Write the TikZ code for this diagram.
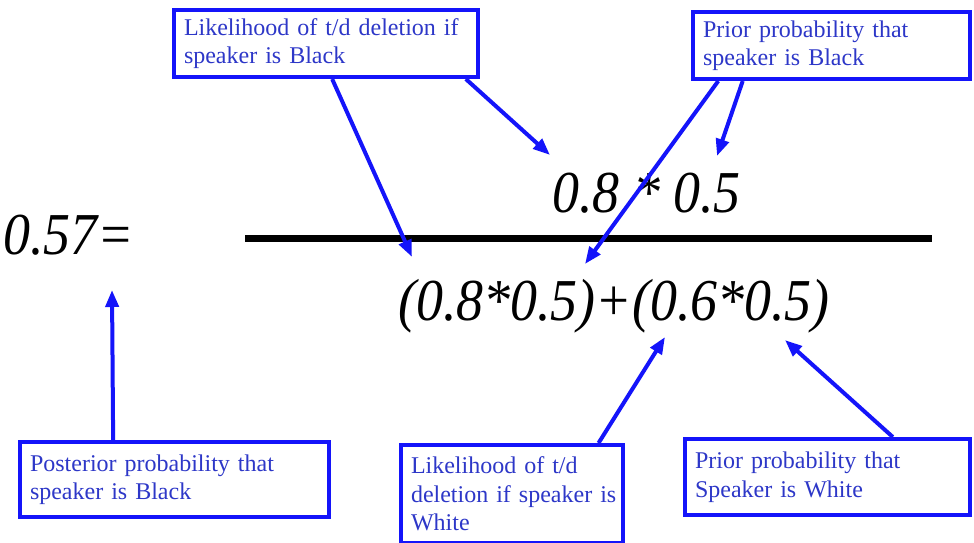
\documentclass[tikz,border=0pt]{standalone}
\usepackage{fontspec}
\usepackage{graphicx}
\setmainfont{Liberation Serif}
\usetikzlibrary{arrows.meta,calc}
\definecolor{boxblue}{RGB}{20,20,250}
\definecolor{txtblue}{RGB}{45,55,200}
\newcommand{\tallify}[1]{\scalebox{0.98}[1.08]{#1}}
\tikzset{
  lbl/.style={draw=boxblue, line width=4pt, fill=white, anchor=north west,
    inner xsep=10pt, inner ysep=2pt, align=left, text=txtblue,
    font=\fontsize{24}{28.5}\selectfont},
  eq/.style={inner sep=0pt, font=\itshape\fontsize{55}{60}\selectfont},
  pointer/.style={draw=boxblue, line width=4pt,
    -{Triangle[length=17pt,width=13pt]}},
}
\begin{document}
\begin{tikzpicture}[x=1pt,y=-1pt]
\useasboundingbox[fill=white] (0,0) rectangle (974,542);
% equation
\node[eq, anchor=base west] (post) at (3,254) {\tallify{0.57=}};
\node[eq, anchor=base west] (num) at (552,212) {\tallify{0.8 * 0.5}};
\node[eq, anchor=base west] (den) at (398,320) {\tallify{(0.8*0.5)+(0.6*0.5)}};
\draw[line width=7pt] (245,238) -- (932,238);
% boxes
\node[lbl, minimum width=304pt, minimum height=67pt, text width=284pt] (b1) at (172,8)
  {Likelihood of t/d deletion if\\speaker is Black};
\node[lbl, minimum width=277pt, minimum height=67pt, text width=257pt] (b2) at (691,10)
  {Prior probability that\\speaker is Black};
\node[lbl, minimum width=309pt, minimum height=75pt, text width=289pt] (b3) at (18,440)
  {Posterior probability that\\speaker is Black};
\node[lbl, minimum width=222pt, minimum height=98pt, text width=202pt] (b4) at (399,443)
  {Likelihood of t/d\\\mbox{deletion if speaker is}\\White};
\node[lbl, minimum width=285pt, minimum height=76pt, text width=265pt] (b5) at (683,437)
  {Prior probability that\\Speaker is White};
% arrow targets
\coordinate (t1) at (412,257);
\coordinate (t2) at (550,155);
\coordinate (t3) at (585,264);
\coordinate (t4) at (717,156);
\coordinate (t5) at (112,290);
\coordinate (t6) at (665,337);
\coordinate (t7) at (785,340);
% arrows
\draw[pointer] ($(b1.south west)!0.52!(b1.south east)$) -- (t1);
\draw[pointer] ($(b1.south west)!0.954!(b1.south east)$) -- (t2);
\draw[pointer] ($(b2.south west)!0.097!(b2.south east)$) -- (t3);
\draw[pointer] ($(b2.south west)!0.184!(b2.south east)$) -- (t4);
\draw[pointer] ($(b3.north west)!0.304!(b3.north east)$) -- (t5);
\draw[pointer] ($(b4.north west)!0.883!(b4.north east)$) -- (t6);
\draw[pointer] ($(b5.north west)!0.726!(b5.north east)$) -- (t7);
\end{tikzpicture}
\end{document}
